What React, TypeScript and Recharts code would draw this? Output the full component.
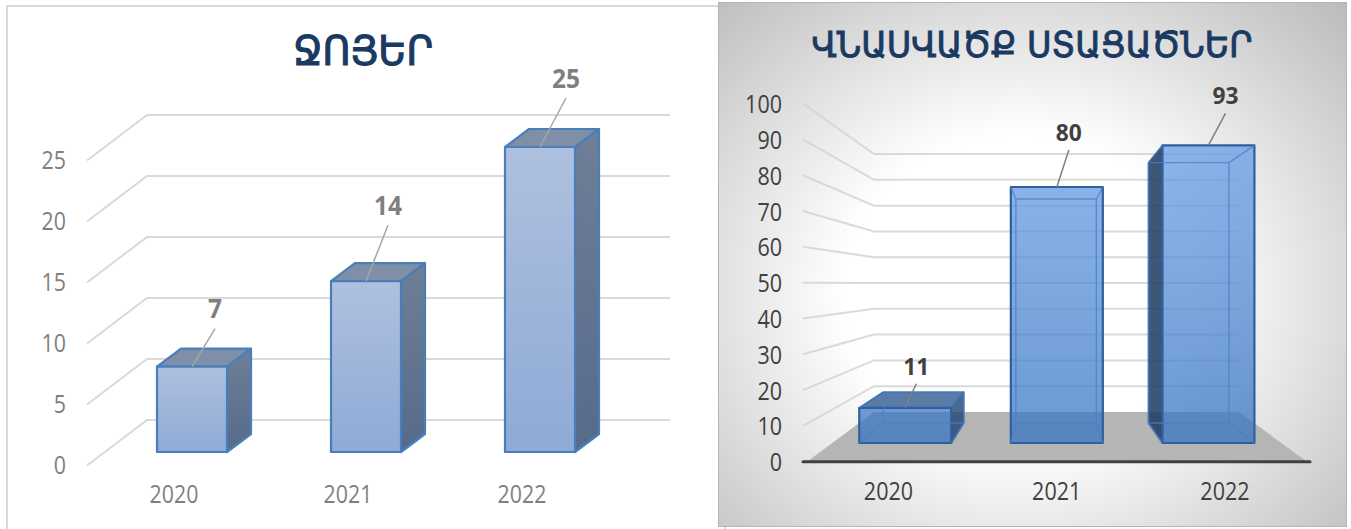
import { BarChart, Bar, XAxis, YAxis } from "recharts"

const years = ["2020", "2021", "2022"]
const waterValues = [7, 14, 25]
const damageValues = [11, 80, 93]
const waterTicks = [0, 5, 10, 15, 20, 25]
const damageTicks = [0, 10, 20, 30, 40, 50, 60, 70, 80, 90, 100]

const waterTitle = "ՋՈՅԵՐ"
const damageTitle = "ՎՆԱՍՎԱԾՔ ՍՏԱՑԱԾՆԵՐ"

const waterData = years.map((year, i) => ({ year, value: waterValues[i] }))
const damageData = years.map((year, i) => ({ year, value: damageValues[i] }))

// leader line offsets from the top of each bar: [start dx, end dx, lift]
const waterLeaders = [
  [35, 58, 38],
  [35, 57, 56],
  [35, 61, 49],
]
const damageLeaders = [
  [46, 57, 24],
  [46, 58, 37],
  [46, 63, 32],
]

const labelFont = "'Open Sans', sans-serif"
const titleFont = "'DejaVu Sans', sans-serif"

// the digits in the picture are narrower than any installed font, so squeeze them
function Digits({ x, y, anchor, size, color, bold, perDigit, children }: any) {
  const text = String(children)
  return (
    <text
      x={x}
      y={y - 1.5}
      textAnchor={anchor}
      dominantBaseline="central"
      fontFamily={labelFont}
      fontSize={size}
      fontWeight={bold ? "bold" : "normal"}
      fill={color}
      textLength={text.length * perDigit}
      lengthAdjust="spacingAndGlyphs"
    >
      {text}
    </text>
  )
}

// left chart

function WaterYTick({ y, payload }: any) {
  const front = y + 13.5
  const back = y - 32
  return (
    <g>
      <polyline points={`87,${front} 147,${back} 670,${back}`} fill="none" stroke="#d9d9d9" strokeWidth={2} />
      <Digits x={66} y={y + 13} anchor="end" size={25} color="#7f7f7f" perDigit={12.2}>
        {payload.value}
      </Digits>
    </g>
  )
}

function WaterXTick({ x, payload }: any) {
  return (
    <Digits x={x - 18} y={494} anchor="middle" size={25} color="#7f7f7f" perDigit={12.2}>
      {payload.value}
    </Digits>
  )
}

function WaterBar({ x, y, width, height, index, payload }: any) {
  const dx = 24
  const dy = -18
  const [startDx, endDx, lift] = waterLeaders[index]
  const right = x + width
  const bottom = y + height
  return (
    <g strokeLinejoin="round">
      <polygon
        points={`${x},${y} ${right},${y} ${right + dx},${y + dy} ${x + dx},${y + dy}`}
        fill="#808fa8"
        stroke="#4a7ebb"
        strokeWidth={2.2}
      />
      <polygon
        points={`${right},${y} ${right + dx},${y + dy} ${right + dx},${bottom + dy} ${right},${bottom}`}
        fill="url(#waterSide)"
        stroke="#4a7ebb"
        strokeWidth={2.2}
      />
      <rect x={x} y={y} width={width} height={height} fill="url(#waterFront)" stroke="#4a7ebb" strokeWidth={2.2} />
      <line x1={x + startDx} y1={y} x2={x + endDx} y2={y - lift} stroke="#a6a6a6" strokeWidth={1.5} />
      <Digits x={x + endDx} y={y - lift - 19} anchor="middle" size={26} bold color="#7f7f7f" perDigit={14}>
        {payload.value}
      </Digits>
    </g>
  )
}

// right chart

const vanishX = 1051
const vanishY = 283
const depth = 0.875

function DamageYTick({ y, payload }: any) {
  const rise = 443 - y
  const front = 461.7 - rise * 1.119
  const back = 412 - rise * 0.806
  return (
    <g>
      {payload.value === 0 ? (
        <>
          <polygon points={`807,${front} 874,${back} 1239,${back} 1307,${front}`} fill="#b5b5b5" />
          <line x1={803} y1={front} x2={1310} y2={front} stroke="#404040" strokeWidth={3} strokeLinecap="round" />
        </>
      ) : (
        <polyline points={`803,${front} 874,${back} 1239,${back}`} fill="none" stroke="#d4d4d4" strokeWidth={2} opacity={0.85} />
      )}
      <Digits x={782} y={front + 1} anchor="end" size={25} color="#404040" perDigit={12.3}>
        {payload.value}
      </Digits>
    </g>
  )
}

function DamageXTick({ x, payload }: any) {
  return (
    <Digits x={1056 + (x - 1056) * 1.11} y={491} anchor="middle" size={25} color="#404040" perDigit={12.3}>
      {payload.value}
    </Digits>
  )
}

function DamageBar({ x, y, width, height, index, payload }: any) {
  const right = x + width
  const bottom = y + height
  const backLeft = vanishX + (x - vanishX) * depth
  const backRight = vanishX + (right - vanishX) * depth
  const backTop = vanishY + (y - vanishY) * depth
  const backBottom = vanishY + (bottom - vanishY) * depth
  const [startDx, endDx, lift] = damageLeaders[index]
  const edge = "#2f5f9e"
  const inner = "#4a80c6"
  return (
    <g strokeLinejoin="round">
      {backTop < y && (
        <polygon
          points={`${x},${y} ${right},${y} ${backRight},${backTop} ${backLeft},${backTop}`}
          fill="#2f5a8f"
          fillOpacity={0.8}
          stroke={edge}
          strokeWidth={1.5}
        />
      )}
      {backLeft < x && (
        <polygon
          points={`${x},${y} ${backLeft},${backTop} ${backLeft},${backBottom} ${x},${bottom}`}
          fill="#1b3a5c"
          fillOpacity={0.85}
          stroke={edge}
          strokeWidth={1.5}
        />
      )}
      {backRight > right && (
        <polygon
          points={`${right},${y} ${backRight},${backTop} ${backRight},${backBottom} ${right},${bottom}`}
          fill="#1f4372"
          fillOpacity={0.8}
          stroke={edge}
          strokeWidth={1.5}
        />
      )}
      <rect x={x} y={y} width={width} height={height} fill="url(#damageFront)" stroke={edge} strokeWidth={2.2} />
      <g fill="none" stroke={inner} strokeWidth={1.4} opacity={0.75}>
        <rect x={backLeft} y={backTop} width={backRight - backLeft} height={backBottom - backTop} />
        <line x1={x} y1={y} x2={backLeft} y2={backTop} />
        <line x1={right} y1={y} x2={backRight} y2={backTop} />
        <line x1={x} y1={bottom} x2={backLeft} y2={backBottom} />
        <line x1={right} y1={bottom} x2={backRight} y2={backBottom} />
      </g>
      <line x1={x + startDx} y1={y} x2={x + endDx} y2={y - lift} stroke="#7f7f7f" strokeWidth={1.5} />
      <Digits x={x + endDx} y={y - lift - 17} anchor="middle" size={24} bold color="#404040" perDigit={13}>
        {payload.value}
      </Digits>
    </g>
  )
}

const layer = { position: "absolute", left: 0, top: 0 } as const

export default function App() {
  return (
    <div style={{ position: "absolute", left: 0, top: 0, width: 1351, height: 529, overflow: "hidden", background: "#fff" }}>
      <div
        style={{
          position: "absolute",
          left: 6,
          top: 5,
          width: 720,
          height: 530,
          border: "2px solid #d9d9d9",
          boxSizing: "border-box",
        }}
      />
      <div
        style={{
          position: "absolute",
          left: 718,
          top: 2,
          width: 629,
          height: 525,
          border: "1.5px solid #b5b5b5",
          boxSizing: "border-box",
          background: "radial-gradient(ellipse farthest-corner at 48% 55%, #ffffff 0%, #ffffff 38%, #bbbbbb 100%)",
        }}
      />

      {/* axes sit in their own chart underneath, because recharts paints them above the bars */}
      <div style={layer}>
        <BarChart width={718} height={529} data={waterData} margin={{ top: 147, right: 91, bottom: 47, left: 60 }}>
          <XAxis dataKey="year" axisLine={false} tickLine={false} interval={0} height={30} tick={<WaterXTick />} />
          <YAxis domain={[0, 25]} ticks={waterTicks} axisLine={false} tickLine={false} width={45} tick={<WaterYTick />} />
          <Bar dataKey="value" fill="none" isAnimationActive={false} />
        </BarChart>
      </div>
      <div style={layer}>
        <BarChart width={718} height={529} data={waterData} margin={{ top: 147, right: 91, bottom: 77, left: 105 }} barSize={70}>
          <defs>
            <linearGradient id="waterFront" x1="0" y1="0" x2="0" y2="1">
              <stop offset="0%" stopColor="#aec0de" />
              <stop offset="100%" stopColor="#8eaad6" />
            </linearGradient>
            <linearGradient id="waterSide" x1="0" y1="0" x2="0" y2="1">
              <stop offset="0%" stopColor="#6f7f97" />
              <stop offset="100%" stopColor="#566a8a" />
            </linearGradient>
          </defs>
          <text x={363} y={51} textAnchor="middle" dominantBaseline="central" fontFamily={titleFont} fontSize={40} textLength={140} lengthAdjust="spacingAndGlyphs" fill="#1a3a63" stroke="#1a3a63" strokeWidth={1.2}>
            {waterTitle}
          </text>
          <XAxis dataKey="year" hide />
          <YAxis domain={[0, 25]} hide />
          <Bar dataKey="value" shape={<WaterBar />} isAnimationActive={false} />
        </BarChart>
      </div>

      <div style={layer}>
        <BarChart width={1351} height={529} data={damageData} margin={{ top: 123, right: 67, bottom: 56, left: 780 }}>
          <XAxis dataKey="year" axisLine={false} tickLine={false} interval={0} height={30} tick={<DamageXTick />} />
          <YAxis domain={[0, 100]} ticks={damageTicks} axisLine={false} tickLine={false} width={49.25} tick={<DamageYTick />} />
          <Bar dataKey="value" fill="none" isAnimationActive={false} />
        </BarChart>
      </div>
      <div style={layer}>
        <BarChart width={1351} height={529} data={damageData} margin={{ top: 123, right: 67, bottom: 86, left: 829.25 }} barSize={92}>
          <defs>
            <linearGradient id="damageFront" gradientUnits="userSpaceOnUse" x1="0" y1="145" x2="0" y2="443">
              <stop offset="0%" stopColor="#639be5" stopOpacity={0.73} />
              <stop offset="100%" stopColor="#3572c1" stopOpacity={0.73} />
            </linearGradient>
          </defs>
          <text x={1032} y={44} textAnchor="middle" dominantBaseline="central" fontFamily={titleFont} fontSize={36} textLength={441} lengthAdjust="spacingAndGlyphs" fill="#1a3a63" stroke="#1a3a63" strokeWidth={1}>
            {damageTitle}
          </text>
          <XAxis dataKey="year" hide />
          <YAxis domain={[0, 100]} hide />
          <Bar dataKey="value" shape={<DamageBar />} isAnimationActive={false} />
        </BarChart>
      </div>
    </div>
  )
}
